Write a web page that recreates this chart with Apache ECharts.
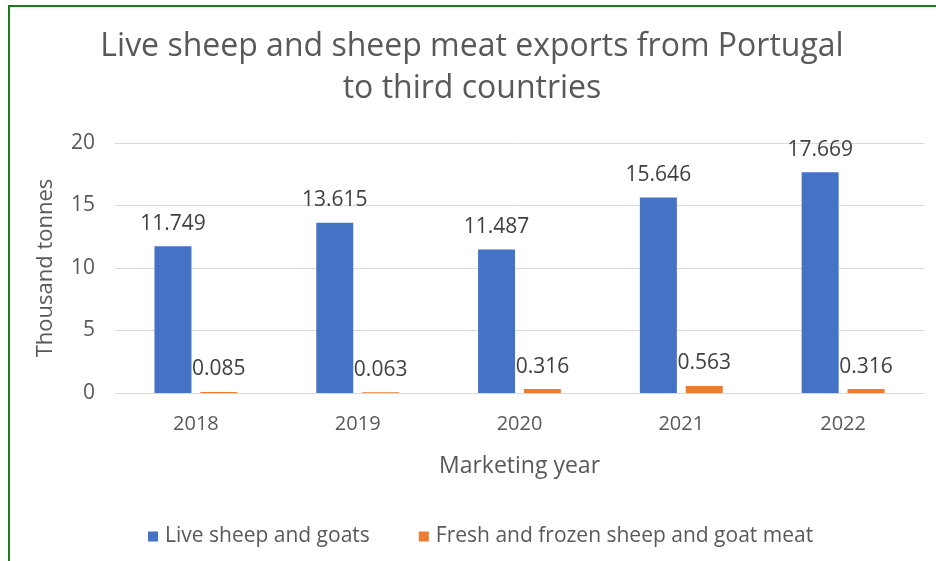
<!DOCTYPE html>
<html>
<head>
<meta charset="utf-8">
<script src="https://cdn.jsdelivr.net/npm/echarts@6/dist/echarts.min.js"></script>
<style>
  html, body { margin: 0; padding: 0; background: #fff; }
  #frame { position: absolute; left: 8px; top: 5px; width: 940px; height: 570px;
           border-left: 2px solid #1f7a1f; border-top: 2px solid #1f7a1f; }
  #chart { position: absolute; left: 0; top: 0; width: 936px; height: 561px; }
</style>
</head>
<body>
<div id="frame"></div>
<div id="chart"></div>
<script>
const years = ['2018', '2019', '2020', '2021', '2022'];
const liveSheep = [11.749, 13.615, 11.487, 15.646, 17.669];
const sheepMeat = [0.085, 0.063, 0.316, 0.563, 0.316];
const seriesNames = ['Live sheep and goats', 'Fresh and frozen sheep and goat meat'];
const yTicks = { min: 0, max: 20, interval: 5 };

const FONT = '"Open Sans", sans-serif';
const chart = echarts.init(document.getElementById('chart'), null, { renderer: 'canvas' });
const labelStyle = {
  show: true, position: 'top', distance: 12,
  color: '#404040', fontSize: 21, fontFamily: FONT,
  formatter: p => p.value.toFixed(3)
};
chart.setOption({
  animation: false,
  textStyle: { fontFamily: FONT },
  title: {
    text: 'Live sheep and sheep meat exports from Portugal\nto third countries',
    left: 467, top: 21, textAlign: 'center',
    textStyle: { fontSize: 32, fontWeight: 'normal', color: '#595959', lineHeight: 42, fontFamily: FONT }
  },
  legend: {
    left: 143, top: 521, itemWidth: 10, itemHeight: 10, itemGap: 49, icon: 'rect',
    textStyle: { fontSize: 21, color: '#595959', fontFamily: FONT, padding: [0, 0, 0, 2] },
    data: seriesNames
  },
  grid: { left: 115, right: 12, top: 143, bottom: 168, containLabel: false },
  xAxis: {
    type: 'category', data: years,
    name: 'Marketing year', nameLocation: 'middle', nameGap: 62,
    nameTextStyle: { fontSize: 23, color: '#595959', fontFamily: FONT },
    axisLine: { lineStyle: { color: '#d9d9d9', width: 1 } },
    axisTick: { show: false },
    axisLabel: { fontSize: 20, color: '#595959', margin: 21, fontFamily: FONT }
  },
  yAxis: {
    type: 'value', min: yTicks.min, max: yTicks.max, interval: yTicks.interval,
    name: 'Thousand tonnes', nameLocation: 'middle', nameGap: 58,
    nameTextStyle: { fontSize: 22, color: '#595959', fontFamily: FONT },
    axisLine: { show: false }, axisTick: { show: false },
    splitLine: { lineStyle: { color: '#d9d9d9', width: 1 } },
    axisLabel: { fontSize: 21, color: '#595959', margin: 20, fontFamily: FONT }
  },
  series: [
    { name: seriesNames[0], type: 'bar', data: liveSheep, barWidth: 37, barGap: '24%',
      itemStyle: { color: '#4472c4' }, label: labelStyle },
    { name: seriesNames[1], type: 'bar', data: sheepMeat, barWidth: 37,
      itemStyle: { color: '#ed7d31' }, label: labelStyle }
  ]
});
</script>
</body>
</html>
